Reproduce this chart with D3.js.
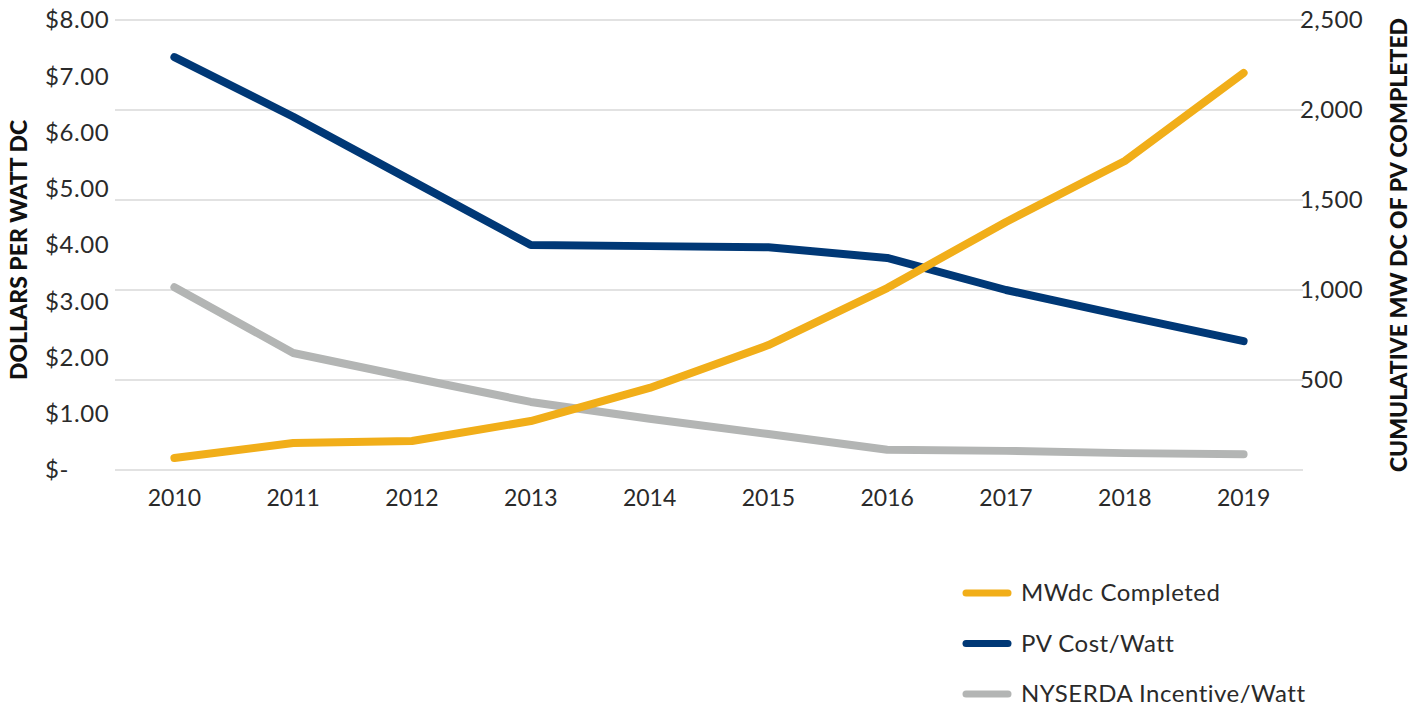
<!DOCTYPE html>
<html>
<head>
<meta charset="utf-8">
<script src="https://cdn.jsdelivr.net/npm/d3@7"></script>
<style>
  body { margin: 0; background: #fff; }
  text { font-family: Lato, "Open Sans", sans-serif; }
</style>
</head>
<body>
<div id="chart"></div>
<script>
// data
var years = ["2010","2011","2012","2013","2014","2015","2016","2017","2018","2019"];
var pvCost = [7.34, 6.28, 5.14, 4.00, 3.98, 3.96, 3.77, 3.20, 2.74, 2.29];
var incentive = [3.25, 2.08, 1.64, 1.21, 0.91, 0.64, 0.36, 0.34, 0.30, 0.28];
var mwCompleted = [67, 150, 161, 272, 456, 694, 1011, 1378, 1717, 2206];
var leftTicks = [0, 1, 2, 3, 4, 5, 6, 7, 8];
var rightTicks = [0, 500, 1000, 1500, 2000, 2500];

var W = 1411, H = 708;
var margin = {left: 115, right: 1303, top: 20, bottom: 470};

var svg = d3.select("#chart").append("svg")
  .attr("width", W)
  .attr("height", H);

var x = d3.scaleBand().domain(years).range([margin.left, margin.right]);
var yL = d3.scaleLinear().domain([0, 8]).range([margin.bottom, margin.top]);
var yR = d3.scaleLinear().domain([0, 2500]).range([margin.bottom, margin.top]);

// gridlines follow the right axis
svg.append("g")
  .selectAll("line")
  .data(rightTicks)
  .enter().append("line")
  .attr("x1", margin.left).attr("x2", margin.right)
  .attr("y1", function(d) { return yR(d); })
  .attr("y2", function(d) { return yR(d); })
  .attr("stroke", "#d9d9d9")
  .attr("stroke-width", 1.5);

// left tick labels, left aligned
svg.append("g")
  .selectAll("text")
  .data(leftTicks)
  .enter().append("text")
  .attr("x", 45)
  .attr("y", function(d) { return yL(d); })
  .attr("dy", "0.35em")
  .style("font-size", "24px")
  .style("letter-spacing", "0.6px")
  .attr("fill", "#2a2a2a")
  .text(function(d) { return d === 0 ? "$-" : "$" + d.toFixed(2); });

// right tick labels
svg.append("g")
  .selectAll("text")
  .data(rightTicks.filter(function(d) { return d > 0; }))
  .enter().append("text")
  .attr("x", 1300)
  .attr("y", function(d) { return yR(d); })
  .attr("dy", "0.35em")
  .style("font-size", "24px")
  .style("letter-spacing", "0.4px")
  .attr("fill", "#2a2a2a")
  .text(function(d) { return d3.format(",")(d); });

// x axis labels
svg.append("g")
  .selectAll("text")
  .data(years)
  .enter().append("text")
  .attr("x", function(d) { return x(d) + x.bandwidth() / 2; })
  .attr("y", 498)
  .attr("dy", "0.35em")
  .attr("text-anchor", "middle")
  .style("font-size", "23px")
  .attr("fill", "#2a2a2a")
  .text(function(d) { return d; });

// axis titles
svg.append("text")
  .text("DOLLARS PER WATT DC")
  .attr("transform", "translate(27,250),rotate(-90)")
  .attr("text-anchor", "middle")
  .style("font-size", "23px")
  .style("font-weight", "900")
  .attr("fill", "#111");

svg.append("text")
  .text("CUMULATIVE MW DC OF PV COMPLETED")
  .attr("transform", "translate(1407,245),rotate(-90)")
  .attr("text-anchor", "middle")
  .style("font-size", "23px")
  .style("font-weight", "900")
  .attr("fill", "#111");

var cx = function(d, i) { return x(years[i]) + x.bandwidth() / 2; };

var series = [
  {name: "NYSERDA Incentive/Watt", values: incentive, scale: yL, color: "#b3b5b4"},
  {name: "PV Cost/Watt", values: pvCost, scale: yL, color: "#003876"},
  {name: "MWdc Completed", values: mwCompleted, scale: yR, color: "#f1ae19"}
];

series.forEach(function(s) {
  var line = d3.line()
    .x(cx)
    .y(function(d) { return s.scale(d); });
  svg.append("path")
    .datum(s.values)
    .attr("d", line)
    .attr("fill", "none")
    .attr("stroke", s.color)
    .attr("stroke-width", 8)
    .attr("stroke-linecap", "round")
    .attr("stroke-linejoin", "round");
});

// legend
var legendItems = [series[2], series[1], series[0]];
var legend = svg.append("g");
legendItems.forEach(function(s, i) {
  var ly = 593 + i * 50.5;
  legend.append("line")
    .attr("x1", 966).attr("x2", 1008)
    .attr("y1", ly).attr("y2", ly)
    .attr("stroke", s.color)
    .attr("stroke-width", 7)
    .attr("stroke-linecap", "round");
  legend.append("text")
    .attr("x", 1021)
    .attr("y", ly)
    .attr("dy", "0.35em")
    .style("font-size", "24px")
    .style("letter-spacing", "0.5px")
    .attr("fill", "#2a2a2a")
    .text(s.name);
});
</script>
</body>
</html>
